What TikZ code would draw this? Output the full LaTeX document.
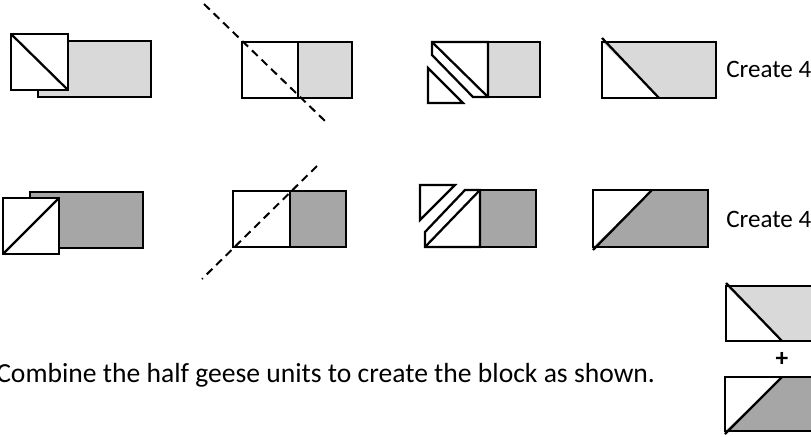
\documentclass[tikz,border=0pt]{standalone}
\usepackage{fontspec}
\setmainfont{Carlito}
\definecolor{lightg}{HTML}{D9D9D9}
\definecolor{darkg}{HTML}{A6A6A6}
\begin{document}
\begin{tikzpicture}[x=0.75pt,y=-0.75pt,
  edge/.style={draw=black,line width=1.7pt,line join=miter},
  cutline/.style={draw=black,line width=1.5pt,dash pattern=on 6pt off 4pt},
  lbl/.style={inner sep=0pt,anchor=base west,font=\fontsize{18.8}{21}\selectfont}]
\useasboundingbox (0,0) rectangle (811,436);
\begin{scope}
\clip (0,0) rectangle (811,436);
% ---------- Row 1 ----------
% shape 1
\draw[edge,fill=lightg] (38,41) rectangle (151,97);
\draw[edge,fill=white] (11,34) rectangle (68,90);
\draw[edge] (11,34) -- (68,90);
% shape 2
\draw[edge,fill=lightg] (298,42) rectangle (352,98);
\draw[edge,fill=white] (242,42) rectangle (298,98);
\draw[cutline] (204,4) -- (325,121);
% shape 3
\draw[edge,fill=lightg] (488,42) rectangle (540,97);
\draw[edge,fill=white] (432,42) -- (488,42) -- (488,97) -- (473,97) -- (432,55) -- cycle;
\draw[edge] (432,42) -- (488,97);
\draw[edge,fill=white] (428,68) -- (463,103) -- (428,103) -- cycle;
% shape 4
\fill[lightg] (602,42) rectangle (716,98);
\fill[white] (602,42) -- (659,98) -- (602,98) -- cycle;
\draw[edge] (602,42) rectangle (716,98);
\draw[edge] (602,38) -- (659,98);
\node[lbl] (c1) at (726,77) {Create 4};
% ---------- Row 2 ----------
% shape 1
\draw[edge,fill=darkg] (30,192) rectangle (143,248);
\draw[edge,fill=white] (3,198) rectangle (59,254);
\draw[edge] (3,254) -- (59,198);
% shape 2
\draw[edge,fill=darkg] (290,191) rectangle (346,247);
\draw[edge,fill=white] (233,191) rectangle (290,247);
\draw[cutline] (317,166) -- (202,279);
% shape 3
\draw[edge,fill=darkg] (480,190) rectangle (536,247);
\draw[edge,fill=white] (465,190) -- (480,190) -- (480,247) -- (425,247) -- (425,232) -- cycle;
\draw[edge] (425,247) -- (480,190);
\draw[edge,fill=white] (420,185) -- (455,185) -- (420,220) -- cycle;
% shape 4
\fill[darkg] (593,190) rectangle (708,247);
\fill[white] (593,190) -- (652,190) -- (593,247) -- cycle;
\draw[edge] (593,190) rectangle (708,247);
\draw[edge] (593,250) -- (652,190);
\node[lbl] (c2) at (726,227) {Create 4};
% ---------- Final block ----------
\fill[lightg] (726,286) rectangle (845,341);
\fill[white] (726,286) -- (782,341) -- (726,341) -- cycle;
\draw[edge] (726,286) rectangle (845,341);
\draw[edge] (726,283) -- (782,341);
\node[font=\fontsize{19}{20}\selectfont\bfseries,inner sep=0pt] (plus) at (782,359) {+};
\fill[darkg] (725,377) rectangle (845,431);
\fill[white] (725,377) -- (782,377) -- (725,431) -- cycle;
\draw[edge] (725,377) rectangle (845,431);
\draw[edge] (725,434) -- (782,377);
\node[lbl,font=\fontsize{20.7}{23}\selectfont] (txt) at (-4,382) {Combine the half geese units to create the block as shown.};
\end{scope}
\end{tikzpicture}
\end{document}
